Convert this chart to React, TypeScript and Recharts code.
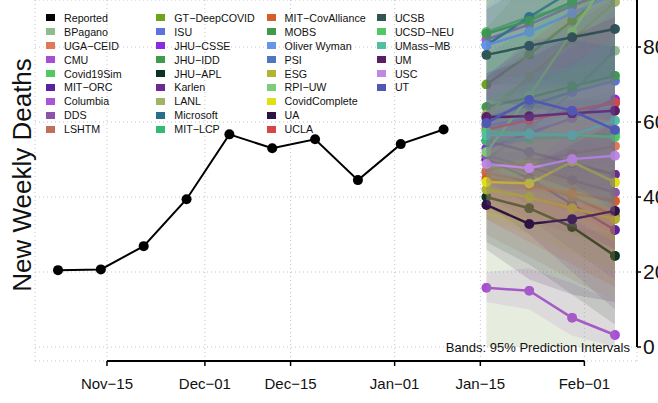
import React from "react"
import { ComposedChart, Line, Area, XAxis, YAxis, CartesianGrid, ReferenceLine } from "recharts"

// weekly points, x = days since 2020-11-01
const reportedDays = [6, 13, 20, 27, 34, 41, 48, 55, 62, 69]
const reportedDeaths = [20.5, 20.7, 26.9, 39.4, 56.7, 53.0, 55.4, 44.5, 54.1, 58.0]
const forecastDays = [76, 83, 90, 97]

const xTicks = [14, 30, 44, 61, 75, 92]
const xTickLabels = ["Nov\u221215", "Dec\u221201", "Dec\u221215", "Jan\u221201", "Jan\u221215", "Feb\u221201"]
const yTicks = [0, 20, 40, 60, 80]

const models = [
    "BPagano", "UGA\u2212CEID", "CMU", "Covid19Sim", "MIT\u2212ORC", "Columbia", "DDS", "LSHTM",
    "GT\u2212DeepCOVID", "ISU", "JHU\u2212CSSE", "JHU\u2212IDD", "JHU\u2212APL", "Karlen", "LANL", "Microsoft", "MIT\u2212LCP",
    "MIT\u2212CovAlliance", "MOBS", "Oliver Wyman", "PSI", "ESG", "RPI\u2212UW", "CovidComplete", "UA", "UCLA",
    "UCSB", "UCSD\u2212NEU", "UMass\u2212MB", "UM", "USC", "UT",
]
const modelColors = [
    "#8fbc8f", "#e0785a", "#a64fd6", "#52c862", "#5a22a0", "#aa55d8", "#8a55a8", "#c07058",
    "#6ca51c", "#6070e0", "#8a2be2", "#3f9a4b", "#0b3320", "#6d2a90", "#a0b468", "#2b6e8c", "#33bb72",
    "#d45f2a", "#3f9a4b", "#6495e8", "#5276bd", "#b0b432", "#7ccc7c", "#e0e012", "#2e1245", "#d84545",
    "#2f5555", "#52c862", "#52c0a0", "#5a1e62", "#c088e0", "#5058b4",
]

// point forecasts for Jan-16, Jan-23, Jan-30, Feb-06
const medians = [
    [50, 58, 68, 79], [47, 49.5, 51.5, 53.6], [15.8, 15.0, 7.8, 3.2], [84, 88, 91, 95],
    [50, 45, 38, 31.2], [82, 86, 91, 96], [51, 48, 44.5, 41.2], [46.5, 44, 40, 35],
    [70, 78, 87, 97], [61, 64.5, 68, 71], [53, 57, 61, 66], [64, 66.5, 69.5, 72.3],
    [40, 37, 32, 24.3], [55, 52, 49, 46], [62, 72, 82, 92], [80.5, 88, 95, 103], [55, 55.5, 56, 57],
    [45, 43, 41, 38.9], [83.5, 87, 92, 98], [80.5, 84, 89, 94], [59, 61, 63, 65], [42, 40, 37, 34.1],
    [52, 67, 84, 101], [44, 43.6, 49.4, 43.9], [37.9, 32.8, 34.1, 36.3], [58, 60.5, 63, 65.2],
    [77.9, 80.3, 82.6, 84.8], [57.5, 57, 56.5, 56], [56.5, 56.7, 56.5, 60.4], [61.3, 61.5, 62.3, 63],
    [48.8, 47.7, 50.1, 51], [59.7, 65.9, 63, 57.9],
]
const lowers = [
    [0, 0, 0, 0], [36, 34, 30, 26], [12, 10, 3, 0], [72, 72, 70, 70],
    [38, 30, 20, 10], [66, 64, 62, 60], [40, 34, 26, 18], [30, 24, 18, 12],
    [55, 58, 62, 66], [50, 50, 50, 50], [42, 42, 42, 42], [50, 48, 47, 46],
    [28, 22, 14, 6], [44, 38, 32, 26], [0, 0, 0, 0], [66, 68, 70, 72], [44, 40, 36, 32],
    [34, 28, 22, 16], [70, 70, 70, 70], [70, 70, 70, 70], [45, 42, 39, 36], [34, 30, 25, 20],
    [40, 48, 58, 68], [35, 32, 34, 28], [26, 18, 14, 12], [44, 40, 36, 30],
    [66, 64, 62, 60], [48, 44, 40, 36], [44, 40, 38, 38], [50, 46, 42, 38],
    [38, 34, 32, 30], [48, 50, 44, 36],
]
const uppers = [
    [100, 110, 120, 130], [58, 65, 73, 82], [20, 21, 17, 12], [96, 104, 112, 120],
    [62, 60, 56, 52], [98, 108, 120, 132], [62, 62, 63, 64], [63, 64, 66, 68],
    [85, 98, 112, 128], [72, 79, 86, 93], [64, 72, 80, 90], [78, 85, 92, 99],
    [52, 52, 50, 46], [66, 66, 66, 66], [100, 115, 130, 145], [95, 108, 120, 134], [66, 71, 76, 82],
    [56, 58, 60, 62], [97, 104, 114, 126], [91, 98, 108, 118], [73, 80, 87, 94], [50, 50, 49, 48],
    [64, 86, 110, 134], [53, 55, 64, 60], [50, 48, 54, 60], [72, 81, 90, 100],
    [90, 97, 103, 110], [67, 70, 74, 78], [69, 73, 75, 83], [73, 77, 83, 88],
    [60, 62, 68, 72], [72, 82, 82, 80],
]

const xMin = 2.24
const xMax = 100.6
const yMin = -3.73
const yMax = 92.53

const data: Record<string, any>[] = [
    ...reportedDays.map((d, i) => ({ day: d, reported: reportedDeaths[i] })),
    ...forecastDays.map((d, j) => {
        const row: Record<string, any> = { day: d }
        models.forEach((_, i) => {
            row["m" + i] = medians[i][j]
            row["b" + i] = [lowers[i][j], uppers[i][j]]
        })
        return row
    }),
]

const font = "'Liberation Sans', Arial, sans-serif"

function LegendBox() {
    const items = [{ name: "Reported", color: "#000" }, ...models.map((m, i) => ({ name: m, color: modelColors[i] }))]
    return (
        <div style={{
            position: "absolute", left: 46, top: 11, display: "grid",
            gridTemplateColumns: "repeat(4, 110.3px)", gridTemplateRows: "repeat(9, 13.9px)",
            gridAutoFlow: "column", fontFamily: font, fontSize: 10.7, color: "#111", pointerEvents: "none",
        }}>
            {items.map((it) => (
                <div key={it.name} style={{ display: "flex", alignItems: "center", whiteSpace: "nowrap" }}>
                    <span style={{ width: 9, height: 7, background: it.color, marginRight: 9, display: "inline-block" }} />
                    {it.name}
                </div>
            ))}
        </div>
    )
}

// point markers live on the median path itself, so later bands veil them too
function MarkerDefs() {
    return (
        <svg width={0} height={0} style={{ position: "absolute" }}>
            <defs>
                {modelColors.map((c, i) => (
                    <marker key={i} id={"pt" + i} viewBox="0 0 10 10" refX={5} refY={5}
                        markerWidth={10} markerHeight={10} markerUnits="userSpaceOnUse">
                        <circle cx={5} cy={5} r={5} fill={c} />
                    </marker>
                ))}
            </defs>
        </svg>
    )
}

export default function App() {
    return (
        <div style={{ position: "absolute", left: 0, top: 0, width: 658, height: 403, background: "#fff", overflow: "hidden" }}>
            <MarkerDefs />
            <ComposedChart width={658} height={403} data={data} margin={{ top: 0, right: 0, bottom: 0, left: 35 }}>
                <CartesianGrid stroke="#c4c4c4" strokeDasharray="1 3" />
                <XAxis dataKey="day" type="number" domain={[xMin, xMax]} ticks={xTicks} interval={0} allowDataOverflow
                    tickFormatter={(v: number) => xTickLabels[xTicks.indexOf(v)]} height={42}
                    axisLine={false} tickLine={{ stroke: "#000", strokeWidth: 1.5 }} tickSize={5} tickMargin={12}
                    tick={{ fill: "#111", fontSize: 15, fontFamily: font }} />
                <YAxis orientation="right" type="number" domain={[yMin, yMax]} ticks={yTicks} interval={0} allowDataOverflow
                    width={21} axisLine={false} tickLine={{ stroke: "#000", strokeWidth: 1.5 }} tickSize={4} tickMargin={2}
                    tick={{ fill: "#111", fontSize: 21, fontFamily: font, textAnchor: "start" }} />
                {/* band then median per model, so later bands veil earlier lines */}
                {models.flatMap((m, i) => [
                    <Area key={"b" + i} dataKey={"b" + i} type="linear" stroke="none" fill={modelColors[i]}
                        fillOpacity={0.13} isAnimationActive={false} activeDot={false} zIndex={100 + i * 2} />,
                    <Line key={"m" + i} dataKey={"m" + i} name={m} type="linear" stroke={modelColors[i]} strokeWidth={2.5}
                        markerStart={`url(#pt${i})`} markerMid={`url(#pt${i})`} markerEnd={`url(#pt${i})`}
                        dot={false} activeDot={false} isAnimationActive={false} zIndex={101 + i * 2} />,
                ])}
                <Line dataKey="reported" name="Reported" type="linear" stroke="#000" strokeWidth={2} zIndex={400}
                    dot={{ r: 5, fill: "#000", stroke: "none", strokeWidth: 0 }} activeDot={false} isAnimationActive={false} />
                <ReferenceLine segment={[{ x: xTicks[0], y: yMin }, { x: xTicks[xTicks.length - 1], y: yMin }]}
                    stroke="#000" strokeWidth={2} ifOverflow="visible" />
                <ReferenceLine segment={[{ x: xMax, y: 0 }, { x: xMax, y: yMax }]}
                    stroke="#000" strokeWidth={2} ifOverflow="visible" />
            </ComposedChart>
            <LegendBox />
            <svg width={658} height={403} style={{ position: "absolute", left: 0, top: 0, pointerEvents: "none" }}>
                <text x={31} y={175} transform="rotate(-90 31 175)" textAnchor="middle" fontSize={26} fontFamily={font} fill="#111">
                    New Weekly Deaths
                </text>
                <text x={630} y={352} textAnchor="end" fontSize={13} fontFamily={font} fill="#111">
                    Bands: 95% Prediction Intervals
                </text>
            </svg>
        </div>
    )
}
